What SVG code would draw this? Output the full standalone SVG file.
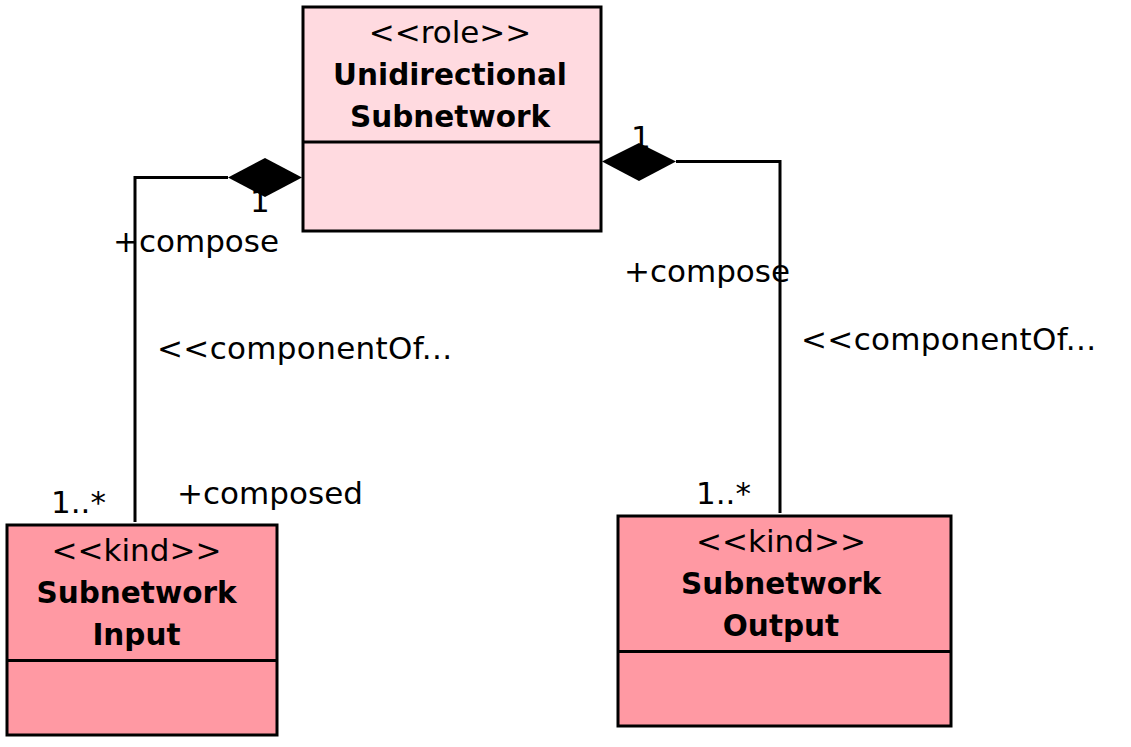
<svg xmlns="http://www.w3.org/2000/svg" width="1131" height="747" viewBox="0 0 1131 747">
<style>
.box{stroke:#000;stroke-width:3}
.role{fill:#FFDAE0}
.kind{fill:#FF99A3}
.st{font-family:"DejaVu Sans",sans-serif;font-size:31px;fill:#000;text-anchor:middle}
.nm{font-family:"DejaVu Sans",sans-serif;font-size:29.5px;font-weight:bold;fill:#000;text-anchor:middle}
.lb{font-family:"DejaVu Sans",sans-serif;font-size:31px;fill:#000}
.ln{fill:none;stroke:#000;stroke-width:3}
.dm{fill:#000;stroke:none}
</style>
<rect width="1131" height="747" fill="#fff"/>
<g id="unidirectional-subnetwork">
<rect class="box role" x="303" y="7" width="298" height="224"/>
<line class="box" x1="303" y1="142" x2="601" y2="142"/>
<text class="st" x="450" y="42.5">&lt;&lt;role&gt;&gt;</text>
<text class="nm" x="450" y="84.5">Unidirectional</text>
<text class="nm" x="450" y="126.5">Subnetwork</text>
</g>
<g id="subnetwork-input">
<rect class="box kind" x="7" y="525" width="270" height="210"/>
<line class="box" x1="7" y1="660.5" x2="277" y2="660.5"/>
<text class="st" x="136.5" y="560.5">&lt;&lt;kind&gt;&gt;</text>
<text class="nm" x="136.5" y="602.5">Subnetwork</text>
<text class="nm" x="136.5" y="644.5">Input</text>
</g>
<g id="subnetwork-output">
<rect class="box kind" x="618" y="516" width="333" height="210"/>
<line class="box" x1="618" y1="651.5" x2="951" y2="651.5"/>
<text class="st" x="781" y="551.5">&lt;&lt;kind&gt;&gt;</text>
<text class="nm" x="781" y="593.5">Subnetwork</text>
<text class="nm" x="781" y="635.5">Output</text>
</g>
<g id="connectors">
<g id="input-composition">
<text class="lb" x="250" y="212">1</text>
<polyline class="ln" points="228,177.5 135,177.5 135,522"/>
<polygon class="dm" points="302,177.5 265,158 228,177.5 265,197"/>
<text class="lb" x="113" y="252" textLength="166">+compose</text>
<text class="lb" x="157" y="359" textLength="295">&lt;&lt;componentOf...</text>
<text class="lb" x="51" y="512.5">1..*</text>
<text class="lb" x="177" y="504" textLength="186">+composed</text>
</g>
<g id="output-composition">
<text class="lb" x="631" y="148">1</text>
<polyline class="ln" points="676,161.5 780,161.5 780,513"/>
<polygon class="dm" points="602,161.5 639,143 676,161.5 639,181"/>
<text class="lb" x="624" y="281.5" textLength="166">+compose</text>
<text class="lb" x="801" y="349.5" textLength="295">&lt;&lt;componentOf...</text>
<text class="lb" x="696" y="504">1..*</text>
</g>
</g>
</svg>
